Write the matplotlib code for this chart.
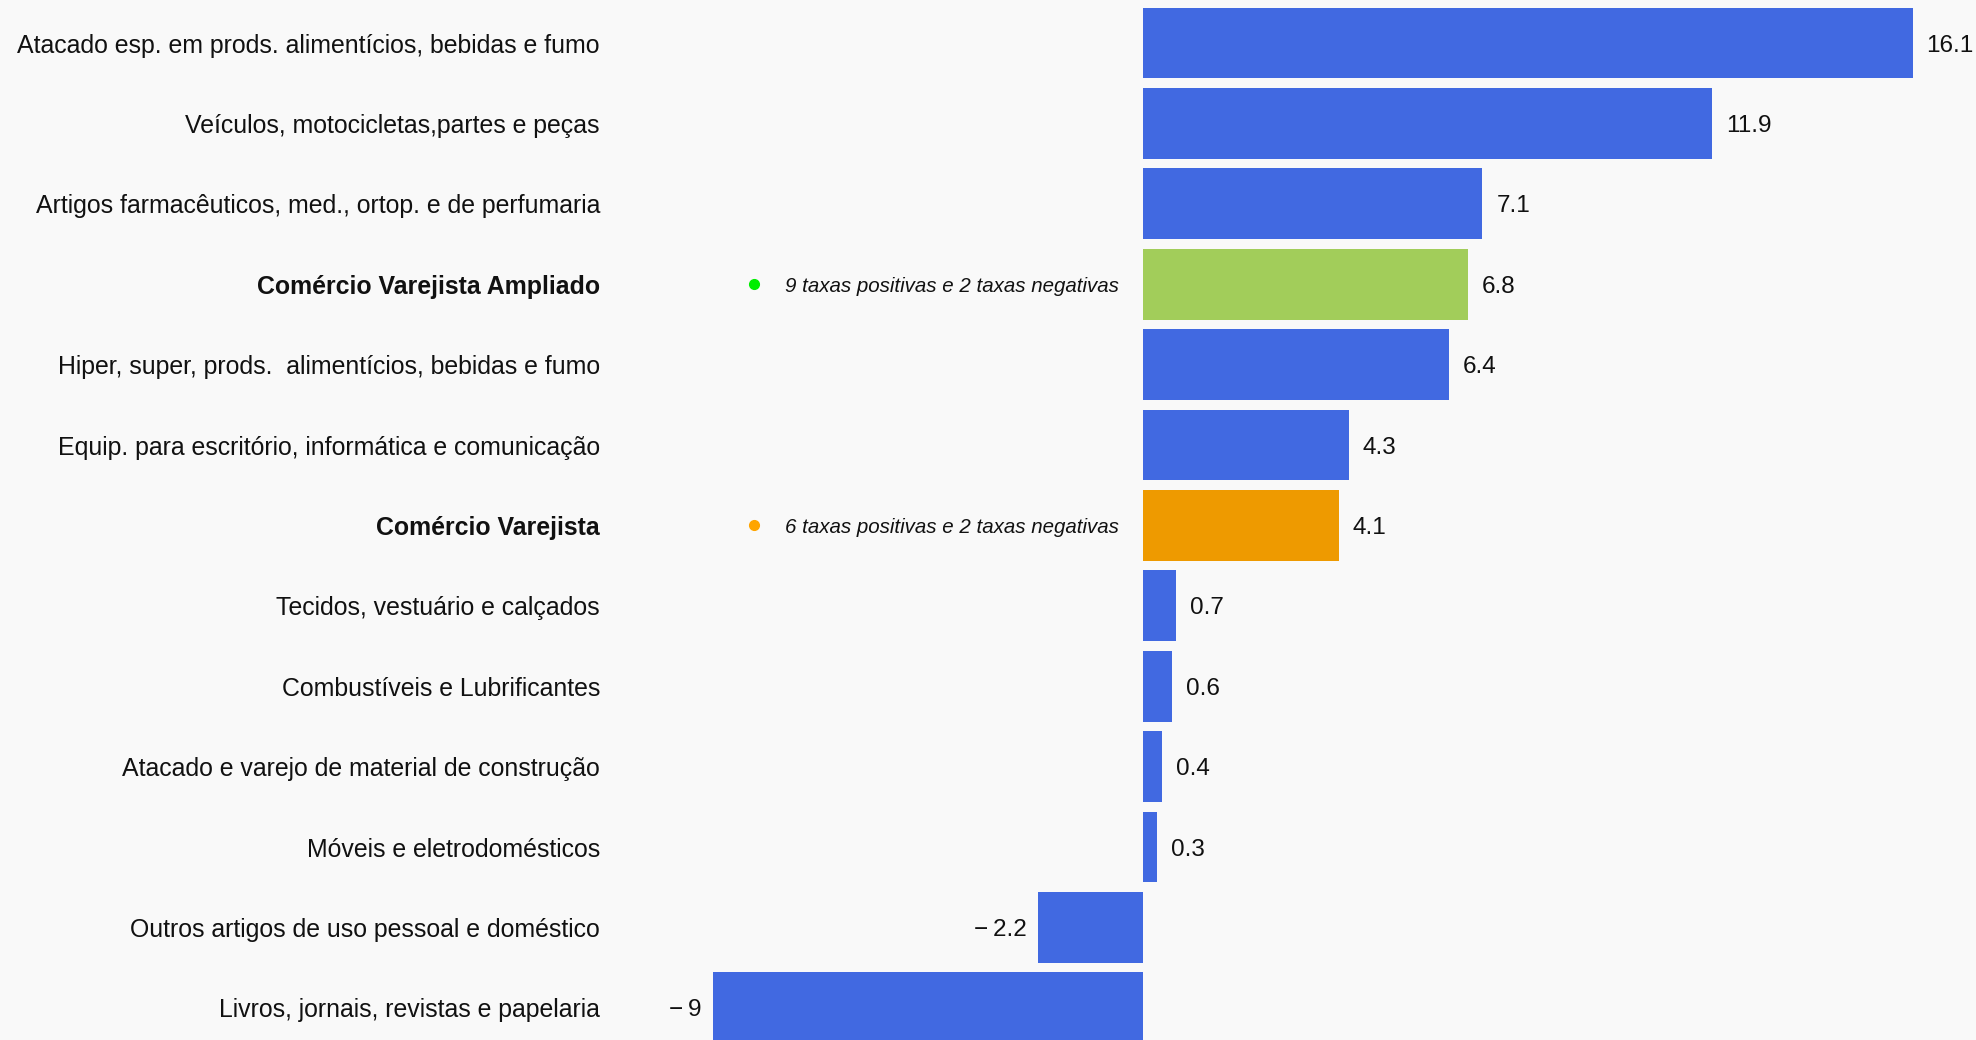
import matplotlib
matplotlib.use("Agg")
import matplotlib.pyplot as plt

# Data
categorias = [
    "Atacado esp. em prods. alimentícios, bebidas e fumo",
    "Veículos, motocicletas,partes e peças",
    "Artigos farmacêuticos, med., ortop. e de perfumaria",
    "Comércio Varejista Ampliado",
    "Hiper, super, prods.  alimentícios, bebidas e fumo",
    "Equip. para escritório, informática e comunicação",
    "Comércio Varejista",
    "Tecidos, vestuário e calçados",
    "Combustíveis e Lubrificantes",
    "Atacado e varejo de material de construção",
    "Móveis e eletrodomésticos",
    "Outros artigos de uso pessoal e doméstico",
    "Livros, jornais, revistas e papelaria",
]
valores = [16.1, 11.9, 7.1, 6.8, 6.4, 4.3, 4.1, 0.7, 0.6, 0.4, 0.3, -2.2, -9]
destaques = {
    "Comércio Varejista Ampliado": ("9 taxas positivas e 2 taxas negativas", "#A2CD5A", "#00EE00"),
    "Comércio Varejista": ("6 taxas positivas e 2 taxas negativas", "#EE9A00", "#FFA500"),
}

plt.rcParams["font.family"] = ["Liberation Sans", "DejaVu Sans"]

W, H = 1976, 1040
fig = plt.figure(figsize=(W / 100, H / 100), dpi=100)
fundo = "#F9F9F9"
fig.patch.set_facecolor(fundo)
ax = fig.add_axes([0, 0, 1, 1])
ax.set_facecolor(fundo)

# layout in pixels
zero_px, px_unid = 1143, 47.8
row_px, top_px = 80.4, 43
n = len(categorias)
ax.set_xlim(-zero_px / px_unid, (W - zero_px) / px_unid)
ax.set_ylim(n - 1 + (H - top_px - row_px * (n - 1)) / row_px, -top_px / row_px)
ax.axis("off")

y = list(range(n))
cores = [destaques[c][1] if c in destaques else "#4169E1" for c in categorias]
ax.barh(y, valores, height=0.88, color=cores, edgecolor="none")

x_lab = (600 - zero_px) / px_unid
for i, (c, v) in enumerate(zip(categorias, valores)):
    peso = "bold" if c in destaques else "normal"
    ax.text(x_lab, i, c, ha="right", va="center_baseline", fontsize=17.9,
            fontweight=peso, color="#111111")
    txt = ("\u2212\u2009" + f"{abs(v):g}") if v < 0 else f"{v:g}"
    ax.annotate(txt, (v, i), xytext=(10 if v >= 0 else -8, 0),
                textcoords="offset points", ha="left" if v >= 0 else "right",
                va="center_baseline", fontsize=17.5, color="#111111")
    if c in destaques:
        nota, _, cor_ponto = destaques[c]
        ax.plot((754 - zero_px) / px_unid, i, "o", color=cor_ponto, markersize=7)
        ax.text((785 - zero_px) / px_unid, i, nota, ha="left", va="center_baseline",
                fontsize=14.8, fontstyle="italic", color="#111111")

fig.savefig("out.png", dpi=100, facecolor=fundo)
